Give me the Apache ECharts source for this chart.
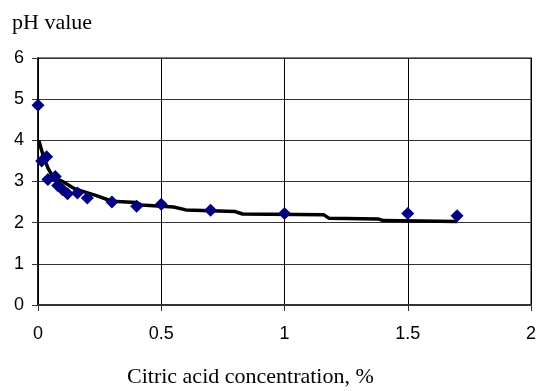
<!DOCTYPE html>
<html>
<head>
<meta charset="utf-8">
<script src="https://cdn.jsdelivr.net/npm/echarts@6/dist/echarts.min.js"></script>
<style>
  html, body { margin: 0; padding: 0; background: #fff; }
  #chart { width: 540px; height: 391px; }
</style>
</head>
<body>
<div id="chart"></div>
<script>
// measured points
const concentration = [0, 0.015, 0.035, 0.04, 0.07, 0.08, 0.1, 0.12, 0.16, 0.2, 0.3, 0.4, 0.5, 0.7, 1.0, 1.5, 1.7];
const phValues = [4.85, 3.5, 3.6, 3.05, 3.12, 2.9, 2.8, 2.7, 2.72, 2.6, 2.5, 2.4, 2.45, 2.3, 2.22, 2.22, 2.17];

// fitted curve
const trendX = [0.003, 0.02, 0.04, 0.06, 0.1, 0.15, 0.24, 0.3, 0.4, 0.42, 0.55, 0.6, 0.8, 0.83, 1.16, 1.18, 1.38, 1.4, 1.7];
const trendY = [4.0, 3.65, 3.33, 3.12, 3.0, 2.82, 2.65, 2.52, 2.49, 2.43, 2.38, 2.31, 2.27, 2.21, 2.19, 2.11, 2.09, 2.05, 2.03];

const xTickLabels = ["0", "0.5", "1", "1.5", "2"];
const yTickLabels = ["0", "1", "2", "3", "4", "5", "6"];

const chart = echarts.init(document.getElementById("chart"));

chart.setOption({
  animation: false,
  title: [
    {
      text: "pH value",
      left: 12,
      top: 12,
      padding: 0,
      textStyle: { fontFamily: "Liberation Serif", fontSize: 22, fontWeight: "normal", color: "#000" },
    },
    {
      text: "Citric acid concentration, %",
      left: 127,
      top: 366,
      padding: 0,
      textStyle: { fontFamily: "Liberation Serif", fontSize: 22, fontWeight: "normal", color: "#000" },
    },
  ],
  grid: {
    left: 38,
    right: 9,
    top: 58,
    bottom: 86,
    show: true,
    borderColor: "#808080",
    borderWidth: 2,
  },
  xAxis: {
    type: "value",
    min: 0,
    max: 2,
    interval: 0.5,
    axisLine: { show: true, lineStyle: { color: "#333", width: 2 } },
    axisTick: { show: true, inside: false, length: 6, lineStyle: { color: "#333" } },
    axisLabel: {
      margin: 20,
      color: "#000",
      fontFamily: "Liberation Sans",
      fontSize: 18,
      formatter: (v) => xTickLabels[Math.round(v / 0.5)],
    },
    splitLine: { show: true, lineStyle: { color: "#000", width: 1 } },
  },
  yAxis: {
    type: "value",
    min: 0,
    max: 6,
    interval: 1,
    axisLine: { show: true, lineStyle: { color: "#000", width: 1.5 } },
    axisTick: { show: true, inside: false, length: 6, lineStyle: { color: "#333" } },
    axisLabel: {
      margin: 14,
      color: "#000",
      fontFamily: "Liberation Sans",
      fontSize: 18,
      formatter: (v) => yTickLabels[Math.round(v)],
    },
    splitLine: { show: true, lineStyle: { color: "#333", width: 1 } },
  },
  series: [
    {
      type: "line",
      data: trendX.map((x, i) => [x, trendY[i]]),
      showSymbol: false,
      lineStyle: { color: "#000", width: 3.5 },
      z: 2,
    },
    {
      type: "scatter",
      data: concentration.map((x, i) => [x, phValues[i]]),
      symbol: "diamond",
      symbolSize: 13,
      itemStyle: { color: "#000080", opacity: 1 },
      z: 3,
    },
  ],
});
</script>
</body>
</html>
